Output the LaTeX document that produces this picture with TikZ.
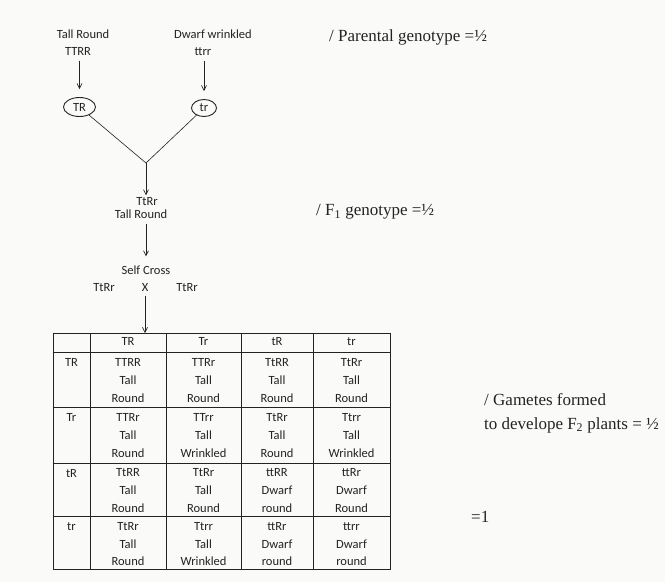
\documentclass[tikz,border=0pt]{standalone}
\usepackage{fontspec}
\setmainfont{Carlito}
\newfontfamily\serifface{Liberation Serif}
\usetikzlibrary{arrows.meta,shapes.geometric}
\definecolor{ink}{RGB}{35,35,35}
\definecolor{paper}{RGB}{250,250,248}
\begin{document}
\begin{tikzpicture}[x=1pt,y=-1pt,
  lab/.style={font=\fontsize{12.5}{14}\selectfont, text=ink, inner sep=0pt, text height=8.5pt, text depth=2.5pt},
  note/.style={font=\serifface\fontsize{17}{24}\selectfont, text=ink, inner sep=0pt, anchor=west, align=left},
  arr/.style={draw=ink, line width=0.6pt, -{Straight Barb[length=5pt,width=5pt]}},
  link/.style={draw=ink, line width=0.6pt},
  gam/.style={ellipse, draw=ink, line width=0.9pt, inner sep=0pt, font=\fontsize{12.5}{14}\selectfont, text=ink},
  gridline/.style={draw=ink, line width=0.7pt}
]
\fill[paper] (0,0) rectangle (665,582);
\useasboundingbox (0,0) rectangle (665,582);

% parents
\node[lab] (p1n) at (83,35) {Tall Round};
\node[lab] (p1g) at (78,52) {TTRR};
\node[lab] (p2n) at (213,35) {Dwarf wrinkled};
\node[lab] (p2g) at (203,52) {ttrr};
\node[gam, minimum width=32pt, minimum height=19pt] (g1) at (79.5,107) {TR};
\node[gam, minimum width=25pt, minimum height=17pt] (g2) at (204,108) {tr};
\draw[arr, shorten <=3pt, shorten >=8pt] (g1.north |- p1g.south) -- (g1.north);
\draw[arr, shorten <=3pt, shorten >=8pt] (g2.north |- p2g.south) -- (g2.north);

\coordinate (junc) at (146,163);
\draw[link] (g1) -- (junc);
\draw[link] (g2) -- (junc);

% F1
\node[lab] (f1g) at (147,202) {TtRr};
\node[lab] (f1p) at (141,215) {Tall Round};
\draw[arr, shorten >=1pt] (junc) -- (junc |- f1g.north);
\node[lab] (self) at (146,271) {Self Cross};
\draw[arr, shorten <=3pt, shorten >=9pt] (self.north |- f1p.south) -- (self.north);

\node[lab] (pa) at (104,288) {TtRr};
\node[lab] (cross) at (145,288) {X};
\node[lab] (pb) at (187,288) {TtRr};
\coordinate (tabtop) at (145,333);
\draw[arr, shorten <=2pt] (cross) -- (tabtop);

% Punnett table
\draw[gridline] (53,333) rectangle (390,569);
\foreach \xx in {90,166,241,313} \draw[gridline] (\xx,333) -- (\xx,569);
\foreach \yy in {352,407,463,516} \draw[gridline] (53,\yy) -- (390,\yy);

\foreach \xx/\g [count=\j] in {128/TR,203.5/Tr,277/tR,351.5/tr}
  \node[lab] (h\j) at (\xx,342.5) {\g};
\foreach \yy/\g [count=\i] in {363/TR,418/Tr,474/tR,527/tr}
  \node[lab] (r\i) at (71.5,\yy) {\g};

\foreach \xx/\g/\h/\s [count=\j] in {128/TTRR/Tall/Round,203.5/TTRr/Tall/Round,277/TtRR/Tall/Round,351.5/TtRr/Tall/Round}{
  \node[lab] (c1\j g) at (\xx,363) {\g};
  \node[lab] (c1\j h) at (\xx,381) {\h};
  \node[lab] (c1\j s) at (\xx,399) {\s};
}
\foreach \xx/\g/\h/\s [count=\j] in {128/TTRr/Tall/Round,203.5/TTrr/Tall/Wrinkled,277/TtRr/Tall/Round,351.5/Ttrr/Tall/Wrinkled}{
  \node[lab] (c2\j g) at (\xx,418) {\g};
  \node[lab] (c2\j h) at (\xx,436) {\h};
  \node[lab] (c2\j s) at (\xx,454) {\s};
}
\foreach \xx/\g/\h/\s [count=\j] in {128/TtRR/Tall/Round,203.5/TtRr/Tall/Round,277/ttRR/Dwarf/round,351.5/ttRr/Dwarf/Round}{
  \node[lab] (c3\j g) at (\xx,473) {\g};
  \node[lab] (c3\j h) at (\xx,491) {\h};
  \node[lab] (c3\j s) at (\xx,509) {\s};
}
\foreach \xx/\g/\h/\s [count=\j] in {128/TtRr/Tall/Round,203.5/Ttrr/Tall/Wrinkled,277/ttRr/Dwarf/round,351.5/ttrr/Dwarf/round}{
  \node[lab] (c4\j g) at (\xx,527) {\g};
  \node[lab] (c4\j h) at (\xx,545) {\h};
  \node[lab] (c4\j s) at (\xx,562) {\s};
}

% notes
\node[note] (n1) at (329,37) {/ Parental genotype =½};
\node[note] (n2) at (316,212) {/ F\textsubscript{1} genotype =½};
\node[note] (n3) at (484,413) {/ Gametes formed\\to develope F\textsubscript{2} plants = ½};
\node[note] (n4) at (471,517) {=1};
\end{tikzpicture}
\end{document}
